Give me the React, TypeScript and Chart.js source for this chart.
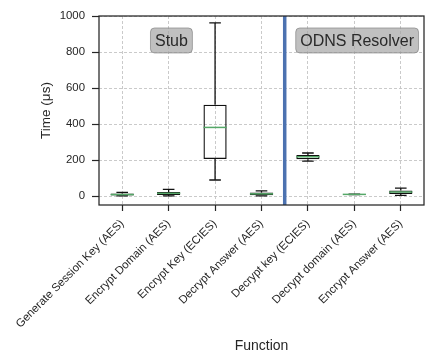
import { useEffect, useRef } from "react";
import { Chart, registerables } from "chart.js";

Chart.register(...registerables);

const categories = [
  "Generate Session Key (AES)",
  "Encrypt Domain (AES)",
  "Encrypt Key (ECIES)",
  "Decrypt Answer (AES)",
  "Decrypt key (ECIES)",
  "Decrypt domain (AES)",
  "Encrypt Answer (AES)",
];
const whiskerLow = [1, 1, 89, 1, 194, 8, 3];
const q1 = [3, 5, 205, 4, 204, 8.5, 11];
const median = [8, 15, 381, 12, 218, 9, 22];
const q3 = [14, 22, 507, 20, 228, 9.5, 31];
const whiskerHigh = [20, 37, 962, 28, 239, 10, 44];
const yTicks = [0, 200, 400, 600, 800, 1000];
const groupLabels = ["Stub", "ODNS Resolver"];
const groupLabelX = [1.06, 5.06];
const groupLabelY = [864, 864];
const separatorX = 3.5;

const FONT = "'Liberation Sans', Arial, sans-serif";
const TEXT = "#262626";
const AXIS = "#262626";
const GRID = "#c4c4c4";
const BOX = "#111111";
const MEDIAN = "#55A868";
const SEP = "#4C72B0";

const extras = {
  id: "boxExtras",
  beforeDatasetsDraw(chart: any) {
    const { ctx, scales, chartArea } = chart;
    const x = scales.x;
    ctx.save();
    ctx.strokeStyle = SEP;
    ctx.lineWidth = 3.5;
    const sx = x.getPixelForValue(separatorX);
    ctx.beginPath();
    ctx.moveTo(sx, chartArea.top);
    ctx.lineTo(sx, chartArea.bottom);
    ctx.stroke();
    ctx.restore();
  },
  afterDatasetsDraw(chart: any) {
    const { ctx, scales } = chart;
    const x = scales.x;
    const y = scales.y;
    const step = x.getPixelForValue(1) - x.getPixelForValue(0);
    const half = (step * 0.5) / 2;
    const capHalf = half / 2;
    ctx.save();
    ctx.lineWidth = 1.3;
    ctx.strokeStyle = BOX;
    categories.forEach((_, i) => {
      const cx = x.getPixelForValue(i);
      const yLo = y.getPixelForValue(whiskerLow[i]);
      const yQ1 = y.getPixelForValue(q1[i]);
      const yQ3 = y.getPixelForValue(q3[i]);
      const yHi = y.getPixelForValue(whiskerHigh[i]);
      ctx.beginPath();
      ctx.moveTo(cx, yQ1);
      ctx.lineTo(cx, yLo);
      ctx.moveTo(cx, yQ3);
      ctx.lineTo(cx, yHi);
      ctx.moveTo(cx - capHalf, yLo);
      ctx.lineTo(cx + capHalf, yLo);
      ctx.moveTo(cx - capHalf, yHi);
      ctx.lineTo(cx + capHalf, yHi);
      ctx.stroke();
    });
    ctx.strokeStyle = MEDIAN;
    ctx.lineWidth = 1.5;
    categories.forEach((_, i) => {
      const cx = x.getPixelForValue(i);
      const ym = y.getPixelForValue(median[i]);
      ctx.beginPath();
      ctx.moveTo(cx - half, ym);
      ctx.lineTo(cx + half, ym);
      ctx.stroke();
    });
    // group labels
    ctx.font = `16px ${FONT}`;
    ctx.textAlign = "center";
    ctx.textBaseline = "middle";
    groupLabels.forEach((t, i) => {
      const cx = x.getPixelForValue(groupLabelX[i]);
      const cy = y.getPixelForValue(groupLabelY[i]);
      const w = ctx.measureText(t).width + 9;
      const h = 25;
      ctx.beginPath();
      ctx.roundRect(cx - w / 2, cy - h / 2, w, h, 4);
      ctx.fillStyle = "rgba(165,165,165,0.7)";
      ctx.fill();
      ctx.strokeStyle = "rgba(120,120,120,0.6)";
      ctx.lineWidth = 1;
      ctx.stroke();
      ctx.fillStyle = "#2a2a2a";
      ctx.fillText(t, cx, cy + 1);
    });
    ctx.restore();
  },
  afterDraw(chart: any) {
    const { ctx, chartArea } = chart;
    ctx.save();
    ctx.strokeStyle = AXIS;
    ctx.lineWidth = 1.25;
    ctx.strokeRect(
      chartArea.left,
      chartArea.top,
      chartArea.right - chartArea.left,
      chartArea.bottom - chartArea.top
    );
    ctx.restore();
  },
};

export default function App() {
  const ref = useRef<HTMLCanvasElement>(null);
  useEffect(() => {
    if (!ref.current) return;
    Chart.defaults.font.family = FONT;
    const chart = new Chart(ref.current, {
      type: "bar",
      data: {
        labels: categories,
        datasets: [
          {
            data: categories.map((_, i) => [q1[i], q3[i]]) as any,
            backgroundColor: "rgba(0,0,0,0)",
            borderColor: BOX,
            borderWidth: 1.3,
            borderSkipped: false,
            barPercentage: 0.5,
            categoryPercentage: 1,
          },
        ],
      },
      options: {
        responsive: false,
        animation: false,
        events: [],
        layout: { padding: { top: 16, right: 16, left: 0, bottom: 0 } },
        plugins: { legend: { display: false }, tooltip: { enabled: false } },
        scales: {
          x: {
            type: "category",
            offset: true,
            grid: {
              offset: false,
              color: GRID,
              lineWidth: 0.9,
              tickColor: AXIS,
              tickLength: 6,
              tickWidth: 1.2,
              tickBorderDash: [],
            } as any,
            border: { display: false, dash: [3, 2] },
            ticks: {
              minRotation: 45,
              maxRotation: 45,
              autoSkip: false,
              color: TEXT,
              font: { size: 11.4, family: FONT },
              padding: 6,
            },
            title: {
              display: true,
              text: "Function",
              color: TEXT,
              font: { size: 14, family: FONT },
              padding: { top: 0, bottom: 6 },
            },
            afterFit: (s: any) => {
              s.height = 156;
            },
          },
          y: {
            min: -50,
            max: 1000,
            afterBuildTicks: (s: any) => {
              s.ticks = yTicks.map((v) => ({ value: v }));
            },
            grid: {
              color: GRID,
              lineWidth: 0.9,
              tickColor: AXIS,
              tickLength: 7,
              tickWidth: 1.2,
              tickBorderDash: [],
            } as any,
            border: { display: false, dash: [3, 2] },
            ticks: {
              color: TEXT,
              font: { size: 11.4, family: FONT },
              padding: 7,
              callback: (v: any) => String(v),
            },
            title: {
              display: true,
              text: "Time (μs)",
              color: TEXT,
              font: { size: 13.5, family: FONT },
              padding: { top: 38, bottom: 0 },
            },
            afterFit: (s: any) => {
              s.width = 99;
            },
          },
        },
      },
      plugins: [extras],
    });
    return () => chart.destroy();
  }, []);
  return (
    <canvas
      ref={ref}
      width={440}
      height={361}
      style={{ position: "absolute", left: 0, top: 0, display: "block" }}
    />
  );
}
